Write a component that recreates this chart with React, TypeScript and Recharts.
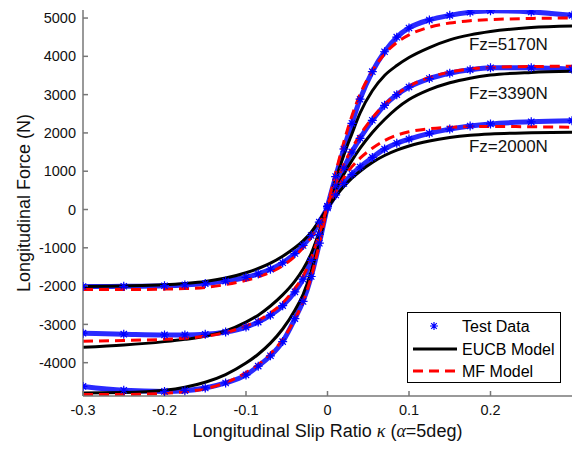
import React from 'react';
import {
  ComposedChart,
  Line,
  XAxis,
  YAxis,
  Legend,
  ReferenceDot,
} from 'recharts';

// slip ratio samples (shared by all series)
const slip = [-0.3, -0.25, -0.2, -0.175, -0.15, -0.125, -0.1, -0.085, -0.07, -0.055, -0.04, -0.03, -0.02, -0.01, 0, 0.01, 0.02, 0.03, 0.04, 0.055, 0.07, 0.085, 0.1, 0.125, 0.15, 0.175, 0.2, 0.25, 0.3];

// Fz = 2000 N
const test2000 = [-2010, -2005, -1990, -1970, -1935, -1870, -1770, -1680, -1560, -1390, -1150, -940, -680, -330, 40, 380, 680, 920, 1110, 1360, 1580, 1730, 1840, 1990, 2100, 2180, 2235, 2290, 2320];
const eucb2000 = [-2010, -1995, -1965, -1930, -1880, -1790, -1650, -1540, -1400, -1220, -1000, -820, -590, -290, 40, 340, 600, 820, 1000, 1230, 1410, 1550, 1660, 1790, 1880, 1940, 1975, 2005, 2020];
const mf2000 = [-2090, -2090, -2080, -2065, -2035, -1960, -1850, -1760, -1640, -1470, -1220, -1000, -720, -370, 60, 470, 830, 1120, 1340, 1600, 1800, 1940, 2030, 2110, 2150, 2165, 2170, 2160, 2150];

// Fz = 3390 N
const test3390 = [-3230, -3255, -3275, -3275, -3260, -3200, -3070, -2940, -2760, -2510, -2150, -1820, -1330, -650, 80, 620, 1080, 1500, 1860, 2330, 2720, 3000, 3200, 3420, 3560, 3650, 3700, 3700, 3660];
const eucb3390 = [-3600, -3540, -3450, -3390, -3310, -3170, -2940, -2760, -2520, -2230, -1870, -1560, -1150, -580, 60, 520, 920, 1280, 1600, 2010, 2350, 2640, 2870, 3130, 3310, 3430, 3510, 3580, 3610];
const mf3390 = [-3440, -3420, -3390, -3360, -3310, -3210, -3040, -2900, -2700, -2440, -2060, -1740, -1280, -640, 90, 680, 1180, 1590, 1950, 2390, 2740, 3010, 3220, 3450, 3590, 3670, 3710, 3735, 3740];

// Fz = 5170 N
const test5170 = [-4620, -4720, -4750, -4730, -4660, -4530, -4320, -4090, -3820, -3450, -2850, -2400, -1750, -880, 80, 860, 1580, 2250, 2880, 3600, 4120, 4500, 4740, 4950, 5070, 5150, 5190, 5160, 5070];
const eucb5170 = [-4790, -4780, -4720, -4640, -4510, -4310, -4010, -3780, -3490, -3120, -2630, -2220, -1620, -820, 60, 780, 1420, 1980, 2520, 3100, 3500, 3760, 3970, 4230, 4430, 4560, 4650, 4750, 4790];
const mf5170 = [-4830, -4830, -4800, -4760, -4680, -4520, -4260, -4050, -3770, -3390, -2860, -2410, -1760, -900, 80, 960, 1760, 2450, 3010, 3620, 4060, 4360, 4560, 4760, 4870, 4930, 4960, 4990, 5000];

const xTicks = [-0.3, -0.2, -0.1, 0, 0.1, 0.2];
const yTicks = [-4000, -3000, -2000, -1000, 0, 1000, 2000, 3000, 4000, 5000];

const loadLabels = [
  { text: 'Fz=5170N', x: 0.222, y: 4330 },
  { text: 'Fz=3390N', x: 0.222, y: 3050 },
  { text: 'Fz=2000N', x: 0.222, y: 1660 },
];

const data = slip.map((s, i) => ({
  slip: s,
  t2000: test2000[i], e2000: eucb2000[i], m2000: mf2000[i],
  t3390: test3390[i], e3390: eucb3390[i], m3390: mf3390[i],
  t5170: test5170[i], e5170: eucb5170[i], m5170: mf5170[i],
}));

const FONT = '"Liberation Sans", Arial, Helvetica, sans-serif';
const BLUE = '#0000ff';

const starPath = (cx: number, cy: number, r: number) => {
  const d = r * 0.7;
  return `M${cx - r},${cy}H${cx + r}M${cx},${cy - r}V${cy + r}M${cx - d},${cy - d}L${cx + d},${cy + d}M${cx - d},${cy + d}L${cx + d},${cy - d}`;
};

const StarDot = (props: any) => {
  const { cx, cy, index } = props;
  if (cx == null || cy == null) return <g key={index} />;
  return <path key={index} d={starPath(cx, cy, 4.5)} stroke={BLUE} strokeWidth={1.2} fill="none" />;
};

const renderLegend = () => (
  <div
    style={{
      boxSizing: 'border-box',
      width: 154,
      height: 71,
      border: '1px solid #000',
      background: '#fff',
      fontFamily: FONT,
      fontSize: 16,
      color: '#000',
      position: 'relative',
    }}
  >
    <svg width={152} height={69} style={{ position: 'absolute', left: 0, top: 0 }}>
      <path d={starPath(26, 13, 4)} stroke={BLUE} strokeWidth={1.2} fill="none" />
      <line x1={5} x2={49} y1={36} y2={36} stroke="#000" strokeWidth={3} />
      <line x1={5} x2={49} y1={58} y2={58} stroke="#ff0000" strokeWidth={3} strokeDasharray="10 6" />
      <text x={54} y={19} fontSize={16} fontFamily={FONT}>Test Data</text>
      <text x={54} y={42} fontSize={16} fontFamily={FONT}>EUCB Model</text>
      <text x={54} y={64} fontSize={16} fontFamily={FONT}>MF Model</text>
    </svg>
  </div>
);

const XLabel = (props: any) => {
  const vb = props.viewBox || {};
  const cx = (vb.x || 0) + (vb.width || 0) / 2;
  return (
    <text x={cx} y={437} textAnchor="middle" fontFamily={FONT} fontSize={18} fill="#111">
      Longitudinal Slip Ratio{' '}
      <tspan fontFamily='"Liberation Serif", serif' fontStyle="italic">κ</tspan>{' '}(
      <tspan fontFamily='"Liberation Serif", serif' fontStyle="italic">α</tspan>=5deg)
    </text>
  );
};

const YLabel = (props: any) => {
  const vb = props.viewBox || {};
  const cy = (vb.y || 0) + (vb.height || 0) / 2;
  return (
    <text
      x={30}
      y={cy}
      textAnchor="middle"
      transform={`rotate(-90, 30, ${cy})`}
      fontFamily={FONT}
      fontSize={18}
      fill="#111"
    >
      Longitudinal Force (N)
    </text>
  );
};

const tickStyle = { fontFamily: FONT, fontSize: 14.5, fill: '#111' };

export default function App() {
  const testKeys = ['t2000', 't3390', 't5170'];
  const eucbKeys = ['e2000', 'e3390', 'e5170'];
  const mfKeys = ['m2000', 'm3390', 'm5170'];
  return (
    <div style={{ position: 'absolute', left: 0, top: 0, background: '#fff' }}>
      <ComposedChart width={576} height={449} data={data} margin={{ top: 10, right: 4, bottom: 0, left: 0 }}>
        <XAxis
          dataKey="slip"
          type="number"
          domain={[-0.3, 0.3]}
          ticks={xTicks}
          allowDataOverflow
          height={53}
          tickSize={-5}
          tickMargin={14}
          tick={tickStyle}
          stroke="#777"
          strokeWidth={1.5}
          label={<XLabel />}
        />
        <XAxis
          xAxisId="top"
          dataKey="slip"
          type="number"
          orientation="top"
          domain={[-0.3, 0.3]}
          ticks={xTicks}
          allowDataOverflow
          height={0}
          tickSize={-5}
          tickFormatter={() => ''}
          stroke="#222"
        />
        <YAxis
          type="number"
          domain={[-4870, 5210]}
          ticks={yTicks}
          allowDataOverflow
          width={83}
          tickSize={-5}
          tickMargin={12}
          tick={tickStyle}
          stroke="#777"
          strokeWidth={1.5}
          label={<YLabel />}
        />
        <YAxis
          yAxisId="right"
          orientation="right"
          type="number"
          domain={[-4870, 5210]}
          ticks={yTicks}
          allowDataOverflow
          width={0}
          tickSize={-5}
          tickFormatter={() => ''}
          stroke="#777"
          strokeWidth={1.5}
        />
        {testKeys.map((k) => (
          <Line
            key={k}
            dataKey={k}
            type="monotone"
            stroke="#2a2aff"
            strokeWidth={5}
            dot={<StarDot />}
            activeDot={false}
            isAnimationActive={false}
            legendType="none"
          />
        ))}
        {eucbKeys.map((k) => (
          <Line
            key={k}
            dataKey={k}
            type="monotone"
            stroke="#000"
            strokeWidth={3}
            dot={false}
            activeDot={false}
            isAnimationActive={false}
            legendType="none"
          />
        ))}
        {mfKeys.map((k) => (
          <Line
            key={k}
            dataKey={k}
            type="monotone"
            stroke="#ff0000"
            strokeWidth={3}
            strokeDasharray="10 6"
            dot={false}
            activeDot={false}
            isAnimationActive={false}
            legendType="none"
          />
        ))}
        {loadLabels.map((l) => (
          <ReferenceDot
            key={l.text}
            x={l.x}
            y={l.y}
            r={0}
            fill="none"
            stroke="none"
            label={{ value: l.text, position: 'center', fontFamily: FONT, fontSize: 17, fill: '#111' }}
          />
        ))}
        <Legend
          layout="horizontal"
          verticalAlign="middle"
          align="center"
          content={renderLegend}
          wrapperStyle={{ left: 407, top: 312, width: 154, height: 71 }}
        />
      </ComposedChart>
    </div>
  );
}
